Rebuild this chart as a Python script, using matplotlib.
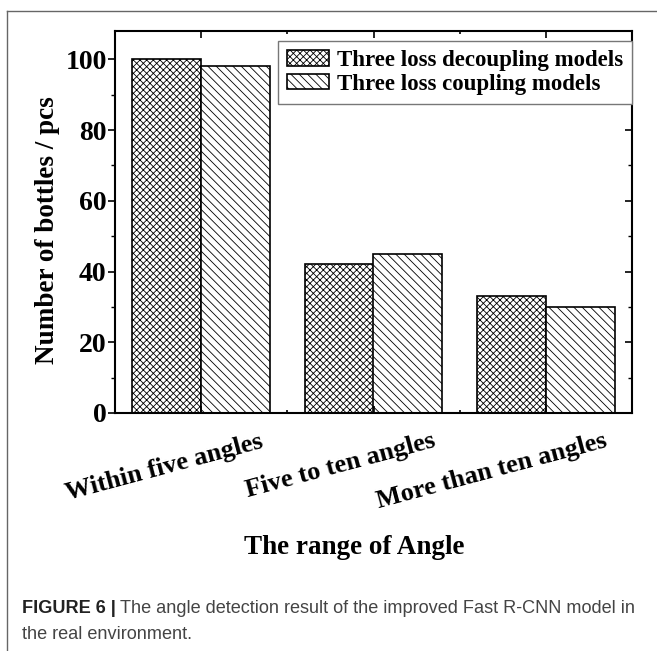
import numpy as np
import matplotlib
matplotlib.use('Agg')
import matplotlib.pyplot as plt
from matplotlib.ticker import MultipleLocator, FixedLocator
from matplotlib.transforms import ScaledTranslation
from matplotlib.lines import Line2D

# данные
categories = ['Within five angles', 'Five to ten angles', 'More than ten angles']
decoupling = [100, 42, 33]
coupling = [98, 45, 30]
series_names = ['Three loss decoupling models', 'Three loss coupling models']

plt.rcParams['font.family'] = 'Liberation Serif'
plt.rcParams['font.weight'] = 'bold'
plt.rcParams['axes.labelweight'] = 'bold'
plt.rcParams['hatch.linewidth'] = 0.6

fig = plt.figure(figsize=(6.57, 6.51), dpi=100)
ax = fig.add_axes([115 / 657, 1 - 413 / 651, 517 / 657, 382 / 651])

x = np.arange(len(categories))
w = 0.4
ax.bar(x - w / 2, decoupling, w, color='white', edgecolor='black', linewidth=1.2,
       hatch='xxxxx', label=series_names[0])
ax.bar(x + w / 2, coupling, w, color='white', edgecolor='black', linewidth=1.2,
       hatch='\\\\\\\\', label=series_names[1])

ax.set_xlim(-0.5, 2.5)
ax.set_ylim(0, 108)

for s in ax.spines.values():
    s.set_linewidth(1.5)

# ось y: слева наружу, справа внутрь
ax.yaxis.set_major_locator(MultipleLocator(20))
ax.yaxis.set_minor_locator(MultipleLocator(10))
ax.tick_params(axis='y', which='major', direction='out', length=5, width=1.2, labelsize=20, pad=1)
ax.tick_params(axis='y', which='minor', direction='out', length=3, width=1.0)

ax2 = ax.twinx()
ax2.set_ylim(ax.get_ylim())
ax2.yaxis.set_major_locator(MultipleLocator(20))
ax2.yaxis.set_minor_locator(MultipleLocator(10))
ax2.tick_params(axis='y', which='major', direction='in', length=5, width=1.2, labelright=False)
ax2.tick_params(axis='y', which='minor', direction='in', length=3, width=1.0)
for s in ax2.spines.values():
    s.set_visible(False)
# легенда должна закрывать правые штрихи
ax.set_zorder(ax2.get_zorder() + 1)
ax.patch.set_visible(False)

# ось x
ax.set_xticks(x)
ax.xaxis.set_minor_locator(FixedLocator([0.5, 1.5]))
ax.tick_params(axis='x', which='both', direction='in', top=True, bottom=True, width=1.2)
ax.tick_params(axis='x', which='major', length=5, labelsize=19, pad=12)
ax.tick_params(axis='x', which='minor', length=2.5)
ax.set_xticklabels(categories, rotation=15, ha='right')
shift = ScaledTranslation(64 / 100, 0, fig.dpi_scale_trans)
for lab in ax.get_xticklabels():
    lab.set_transform(lab.get_transform() + shift)

ax.set_ylabel('Number of bottles / pcs', fontsize=19.5)
ax.yaxis.set_label_coords(-0.106, 0.479)
ax.set_xlabel('The range of Angle', fontsize=19.5)
ax.xaxis.set_label_coords(0.462, -0.32)

leg = ax.legend(loc='upper right', bbox_to_anchor=(1.0, 0.974), fontsize=16.5,
                frameon=True, fancybox=False, borderaxespad=0, borderpad=0.4,
                handlelength=1.83, handleheight=0.65, handletextpad=0.35,
                labelspacing=0.12, framealpha=1)
leg.get_frame().set_edgecolor('#777777')
leg.get_frame().set_linewidth(1.0)

# рамка и подпись
fig.add_artist(Line2D([7 / 657, 7 / 657], [0, 1 - 11 / 651], color='#666666', lw=1))
fig.add_artist(Line2D([7 / 657, 1], [1 - 11 / 651, 1 - 11 / 651], color='#666666', lw=1))

t1 = fig.text(22 / 657, 1 - 613 / 651, 'FIGURE 6 |', family='Liberation Sans',
              weight='bold', fontsize=13.1, color='#222222', va='baseline')
fig.canvas.draw()
bb = t1.get_window_extent()
fig.text(bb.x1 / 657 + 4 / 657, 1 - 613 / 651,
         'The angle detection result of the improved Fast R-CNN model in',
         family='Liberation Sans', weight='normal', fontsize=13.1, color='#444444', va='baseline')
fig.text(22 / 657, 1 - 639 / 651, 'the real environment.', family='Liberation Sans',
         weight='normal', fontsize=13.1, color='#444444', va='baseline')

fig.savefig('out.png', dpi=100)
